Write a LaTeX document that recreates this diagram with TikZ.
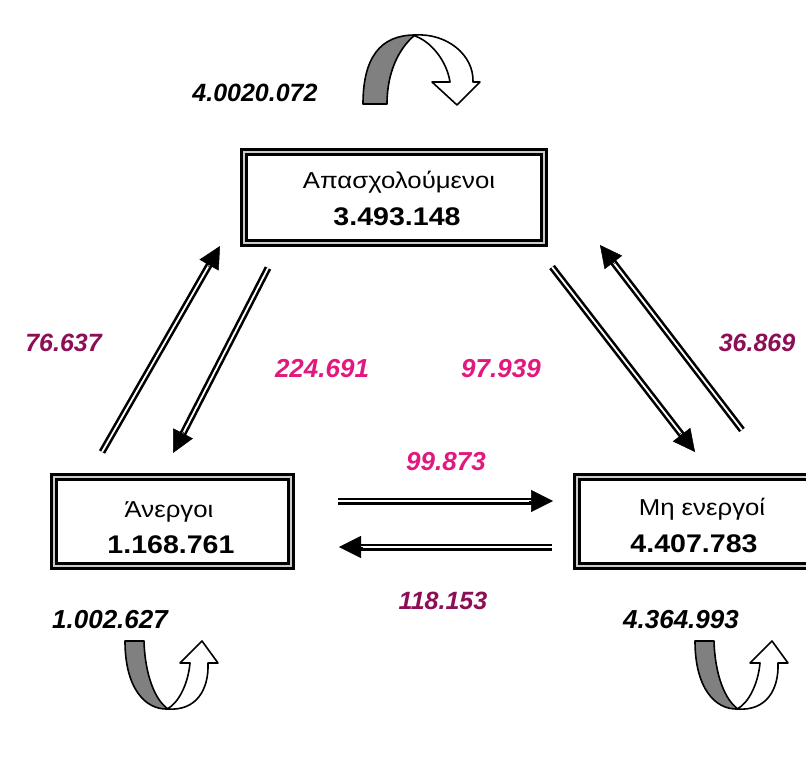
\documentclass[tikz,border=0pt]{standalone}
\usepackage{fontspec}
\setmainfont{Liberation Sans}
\newfontfamily\boxfont[FakeStretch=1.12]{Liberation Sans}
\usetikzlibrary{arrows.meta,calc}
\definecolor{darkmag}{HTML}{8C0F55}
\definecolor{brightmag}{HTML}{E2187F}
\definecolor{ribbon}{HTML}{808080}
\tikzset{
  frame/.style={draw=black, line width=2.8pt, double=gray!40, double distance=2.6pt, fill=white, inner sep=0pt},
  shaft/.style={draw=black, line width=2.6pt, double=white, double distance=1.8pt, shorten >=17pt},
  tiphead/.style={-{Triangle[length=22pt,width=22pt]}, line width=0.5pt, draw=black},
  boxname/.style={anchor=base, font=\boxfont\fontsize{23}{27}\selectfont, inner sep=0pt},
  boxnum/.style={anchor=base, font=\boxfont\bfseries\fontsize{25.5}{30}\selectfont, inner sep=0pt},
  lab/.style={anchor=base, font=\bfseries\itshape\fontsize{26}{30}\selectfont, inner sep=0pt},
  labsmall/.style={lab, font=\bfseries\itshape\fontsize{25}{30}\selectfont},
  ribbonshape/.style={draw=black, line width=1.6pt, fill=ribbon, line join=round},
  whiteshape/.style={draw=black, line width=1.6pt, fill=white, line join=round},
}
\newcommand{\dblarrow}[2]{%
  \draw[shaft] (#1) -- (#2);
  \draw[tiphead] ($(#2)!24pt!(#1)$) -- (#2);}
\begin{document}
\begin{tikzpicture}[x=1pt,y=-1pt]
\useasboundingbox (0,0) rectangle (806,757);
\clip (0,0) rectangle (806,757);
\fill[white] (0,0) rectangle (806,757);

% boxes
\node[frame, minimum width=300pt, minimum height=91pt] (emp) at (394,197.5) {};
\node[frame, minimum width=237pt, minimum height=89pt] (unemp) at (172.5,521.5) {};
\node[frame, minimum width=250pt, minimum height=89pt] (inact) at (702,521.5) {};

\node[boxname] (empname) at (399,188) {Απασχολούμενοι};
\node[boxnum] (empnum) at (397,225) {3.493.148};
\node[boxname] (unempname) at (169,517) {Άνεργοι};
\node[boxnum] (unempnum) at (171,553) {1.168.761};
\node[boxname] (inactname) at (702,515) {Μη ενεργοί};
\node[boxnum] (inactnum) at (694,552) {4.407.783};

% straight arrows
\coordinate (luA) at (102,452);  \coordinate (luB) at (220,246);
\coordinate (ldA) at (268,268);  \coordinate (ldB) at (173,453);
\coordinate (rdA) at (552,267);  \coordinate (rdB) at (695,452);
\coordinate (ruA) at (742,430);  \coordinate (ruB) at (600,245);
\coordinate (hrA) at (338,501);  \coordinate (hrB) at (553,501);
\coordinate (hlA) at (552,547);  \coordinate (hlB) at (339,547);
\dblarrow{luA}{luB}
\dblarrow{ldA}{ldB}
\dblarrow{rdA}{rdB}
\dblarrow{ruA}{ruB}
\dblarrow{hrA}{hrB}
\dblarrow{hlA}{hlB}

% top curved arrow
\draw[ribbonshape] (363,104) .. controls (363,58) and (380,35) .. (415,35)
   .. controls (399,48) and (387,72) .. (387,104) -- cycle;
\draw[whiteshape] (415,35) .. controls (447,33) and (474,55) .. (473,82)
   -- (480,82) -- (457,105) -- (432,82) -- (450,82)
   .. controls (447,62) and (432,42) .. (415,36) -- cycle;

% bottom curved arrows
\foreach \dx in {0,570}{
\begin{scope}[xshift=\dx pt]
\draw[ribbonshape] (125,641) -- (144,641) .. controls (145,675) and (155,700) .. (168,709)
   .. controls (145,710) and (125,688) .. (125,641) -- cycle;
\draw[whiteshape] (168,709) .. controls (196,711) and (209,690) .. (208,663)
   -- (218,663) -- (202,641) -- (180,663) -- (190,663)
   .. controls (188,685) and (178,703) .. (168,708.5) -- cycle;
\end{scope}}

% labels
\node[labsmall] (stayemp) at (255,102) {4.0020.072};
\node[labsmall, text=darkmag] (ue) at (63.5,351) {76.637};
\node[lab, text=brightmag] (eu) at (322,377) {224.691};
\node[lab, text=brightmag] (ei) at (501,377) {97.939};
\node[labsmall, text=darkmag] (ie) at (757,351) {36.869};
\node[lab, text=brightmag] (ui) at (446,470) {99.873};
\node[labsmall, text=darkmag] (iu) at (443,609) {118.153};
\node[lab] (stayunemp) at (110,628) {1.002.627};
\node[lab] (stayinact) at (681,628) {4.364.993};
\end{tikzpicture}
\end{document}
